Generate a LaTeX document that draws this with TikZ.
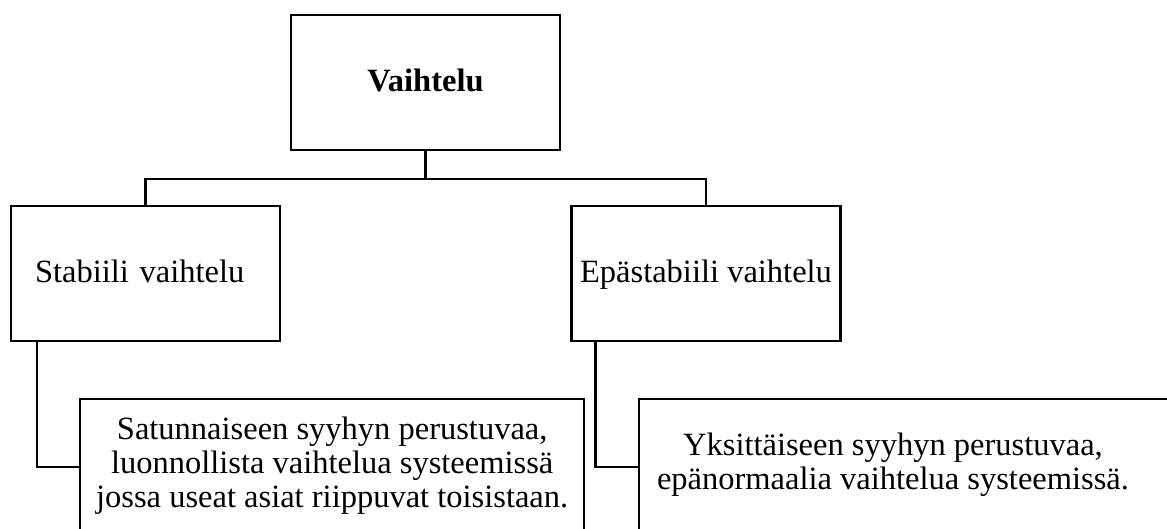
\documentclass[tikz,border=0pt]{standalone}
\usepackage{fontspec}
\setmainfont{Liberation Serif}
\usetikzlibrary{calc}
\begin{document}
\begin{tikzpicture}[x=1pt,y=-1pt,
  box/.style={draw=black, line width=2.4pt, fill=white, inner sep=0pt,
    minimum height=135pt, text height=24pt, text depth=6pt,
    font=\fontsize{32.5}{34}\selectfont},
  bodytext/.style={align=center, inner sep=0pt,
    font=\fontsize{32.5}{34}\selectfont},
  link/.style={draw=black, line width=2.4pt}]
\useasboundingbox (0,0) rectangle (1167,529);
\clip (0,0) rectangle (1167,529);

% root of the tree
\node[box, minimum width=269pt] (root) at (425.5,82.5) {\textbf{Vaihtelu}};

% the two kinds of variation
\node[box, minimum width=269pt, text width=221pt, inner xsep=24pt, align=left]
  (stab) at (145.5,273.5) {Stabiili vaihtelu};
\node[box, minimum width=269pt] (unstab) at (706,273.5) {Epästabiili vaihtelu};

% descriptions (the boxes run past the lower and right page edges)
\node[box, minimum width=504pt, anchor=north west] (stabDesc) at (79,398) {};
\node[bodytext] (stabText) at (stabDesc.center)
  {\strut Satunnaiseen syyhyn perustuvaa,\\
   \strut luonnollista vaihtelua systeemissä\\
   \strut jossa useat asiat riippuvat toisistaan.};

\node[box, minimum width=580pt, anchor=north west] (unstabDesc) at (638,398) {};
\node[bodytext] (unstabText) at (893,466)
  {\strut Yksittäiseen syyhyn perustuvaa,\\
   \strut epänormaalia vaihtelua systeemissä.};

% connectors
\coordinate (split) at ($(root.south)+(0,28)$);
\draw[link] (root.south) -- (split);
\draw[link] (stab.north) |- (split) -| (unstab.north);
\draw[link] ([xshift=27.4pt]stab.south west) |- (stabDesc.west);
\draw[link] ([xshift=25pt]unstab.south west) |- (unstabDesc.west);
\end{tikzpicture}
\end{document}
